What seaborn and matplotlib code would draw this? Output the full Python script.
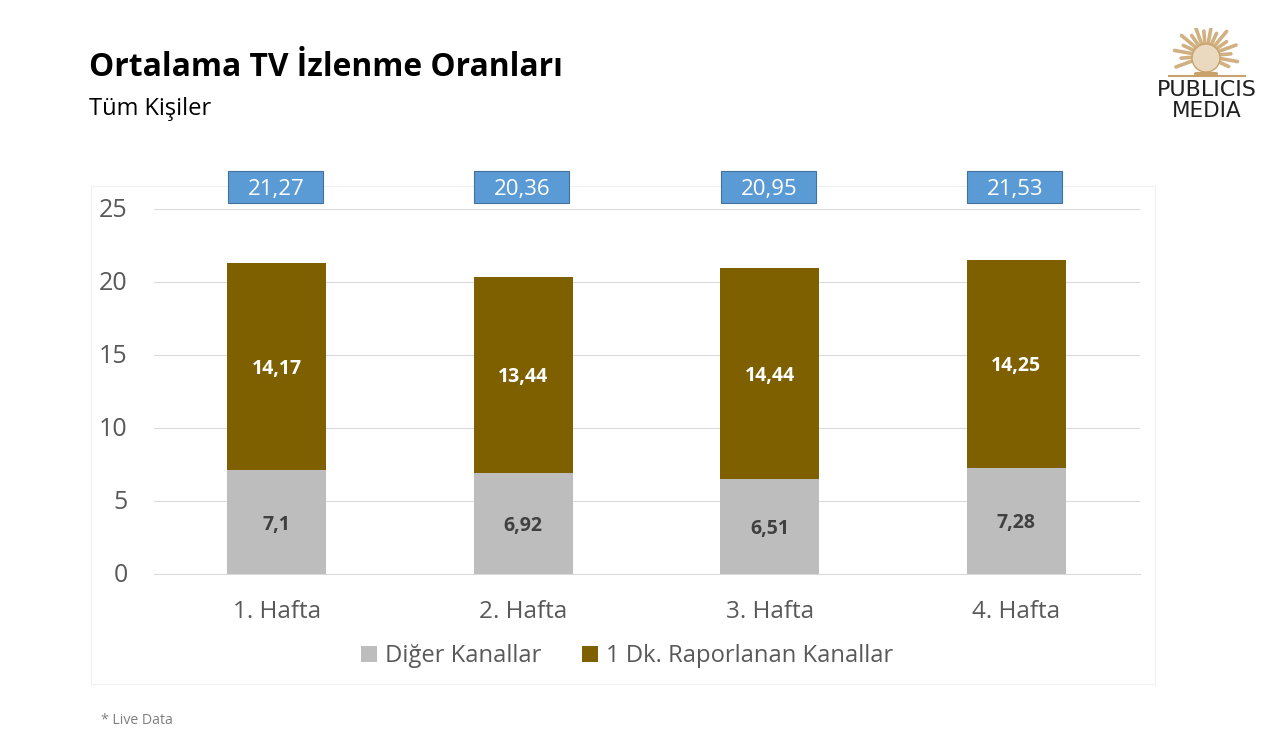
import numpy as np
import pandas as pd
import matplotlib
matplotlib.use("Agg")
import matplotlib.pyplot as plt
from matplotlib.patches import Rectangle, Patch, Wedge
from matplotlib.transforms import ScaledTranslation
import seaborn as sns

weeks = ["1. Hafta", "2. Hafta", "3. Hafta", "4. Hafta"]
other = [7.1, 6.92, 6.51, 7.28]
other_labels = ["7,1", "6,92", "6,51", "7,28"]
reported = [14.17, 13.44, 14.44, 14.25]
reported_labels = ["14,17", "13,44", "14,44", "14,25"]
totals = ["21,27", "20,36", "20,95", "21,53"]
series_names = ["Diğer Kanallar", "1 Dk. Raporlanan Kanallar"]
yticks = [0, 5, 10, 15, 20, 25]

W, H = 1277, 733
sns.set_theme(style="white")
plt.rcParams["font.family"] = ["Open Sans", "DejaVu Sans"]

fig = plt.figure(figsize=(W / 100, H / 100), dpi=100, facecolor="white")

def fx(px):
    return px / W

def fy(py):
    return 1 - py / H

# chart frame, behind the axes
fig.add_artist(Rectangle((fx(91), fy(684)), 1064 / W, 498 / H, transform=fig.transFigure,
                         facecolor="white", edgecolor="#f0f0f0", linewidth=0.8, zorder=-1))

ax = fig.add_axes([fx(153.5), fy(574), 986 / W, 365 / H])
ax.patch.set_alpha(0)
df = pd.DataFrame({"week": weeks, "other": other, "reported": reported})
sns.barplot(data=df, x="week", y="other", color="#bdbdbd", saturation=1, width=0.4,
            linewidth=0, ax=ax, zorder=3)
sns.barplot(data=df, x="week", y="reported", color="#7f6000", saturation=1, width=0.4,
            linewidth=0, bottom=df["other"].to_numpy(), ax=ax, zorder=3)
anns = ax.bar_label(ax.containers[0], labels=other_labels, label_type="center", color="#404040",
                    fontsize=14, fontweight="bold", zorder=4)
anns += ax.bar_label(ax.containers[1], labels=reported_labels, label_type="center", color="white",
                     fontsize=14, fontweight="bold", zorder=4)
for a in anns:
    a.xyann = (0, -1.8)
ax.set_xlim(-0.5, 3.5)
ax.set_ylim(0, 25)
ax.set_yticks(yticks)
ax.set_xlabel("")
ax.set_ylabel("")
ax.set_axisbelow(True)
ax.grid(axis="y", color="#d9d9d9", linewidth=0.75)
ax.grid(axis="x", visible=False)
sns.despine(ax=ax, left=True, top=True, right=True, bottom=False)
ax.spines["bottom"].set_color("#d9d9d9")
ax.spines["bottom"].set_linewidth(0.75)
ax.tick_params(axis="y", length=0, pad=18.5, labelsize=18, labelcolor="#595959")
ax.tick_params(axis="x", length=0, pad=19, labelsize=17.5, labelcolor="#595959")
nudge = ScaledTranslation(0, 1.5 / 100, fig.dpi_scale_trans)
for lab in ax.get_yticklabels():
    lab.set_transform(lab.get_transform() + nudge)

# total boxes
for cx, label in zip([276, 522, 769, 1015], totals):
    fig.add_artist(Rectangle((fx(cx - 48), fy(203)), 95 / W, 32 / H, transform=fig.transFigure,
                             facecolor="#5b9bd5", edgecolor="#41719c", linewidth=0.8, zorder=6))
    fig.text(fx(cx), fy(189), label, color="white", fontsize=16, ha="center", va="center", zorder=7)

# legend
handles = [Patch(facecolor="#bdbdbd", edgecolor="none"), Patch(facecolor="#7f6000", edgecolor="none")]
fig.legend(handles, series_names, loc="center", bbox_to_anchor=(fx(627), fy(656)), ncol=2, frameon=False,
           fontsize=17.1, labelcolor="#595959", handlelength=0.68, handleheight=0.68,
           handletextpad=0.3, columnspacing=1.74)

# headings
fig.text(fx(89), fy(67), "Ortalama TV İzlenme Oranları", fontsize=22.9, fontweight="bold",
         color="black", ha="left", va="center")
fig.text(fx(89), fy(109), "Tüm Kişiler", fontsize=17, color="black", ha="left", va="center")
fig.text(fx(101), fy(720), "* Live Data", fontsize=10.2, color="#7f7f7f", ha="left", va="center")

# logo
gold = "#c9a26b"
lx = fig.add_axes([fx(1165), fy(80), 84 / W, 52 / H])
lx.set_xlim(1165, 1249)
lx.set_ylim(80, 28)
lx.axis("off")
lx.plot([1168, 1246], [76, 76], color=gold, lw=1.5, solid_capstyle="butt")
sun_cx, sun_cy = 1206, 56
for i, deg in enumerate(range(-25, 210, 15)):
    t = np.radians(deg)
    r = 32 if i % 2 else 25
    lx.plot([sun_cx + 12 * np.cos(t), sun_cx + r * np.cos(t)],
            [sun_cy - 12 * np.sin(t), sun_cy - r * np.sin(t)],
            color=gold, lw=2.6, solid_capstyle="round", alpha=0.85)
lx.add_patch(Wedge((sun_cx, 58), 14, 0, 360, facecolor="#ead9bf", edgecolor=gold, lw=1, zorder=3))
lx.plot([sun_cx - 10, sun_cx + 10], [74, 74], color=gold, lw=3)
fig.text(fx(1207), fy(90), "PUBLICIS", fontsize=16, color="#1f1f1f", ha="center", va="center",
         family=["DejaVu Sans"])
fig.text(fx(1207), fy(111), "MEDIA", fontsize=15.5, color="#1f1f1f", ha="center", va="center",
         family=["DejaVu Sans"])

fig.savefig("out.png", dpi=100, facecolor="white")
